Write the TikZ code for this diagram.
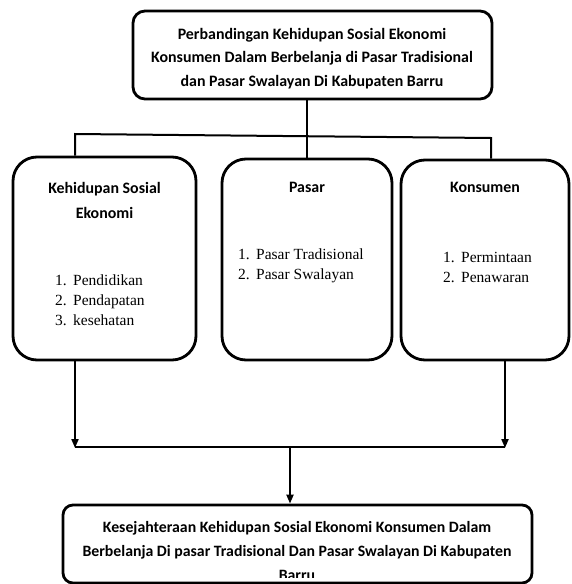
\documentclass[tikz,border=0pt]{standalone}
\usepackage{fontspec}
\setmainfont{Liberation Serif}
\newfontfamily\calib{Carlito}
\usetikzlibrary{arrows.meta}
\tikzset{
  box/.style={draw, line width=2.8pt, rounded corners=#1, inner sep=0pt, rectangle},
  conn/.style={line width=2pt},
  arr/.style={line width=2pt, -{Triangle[length=9pt,width=7pt]}},
  head/.style={font=\calib\bfseries\fontsize{15.9}{23.5}\selectfont, align=center, inner sep=0pt},
  lst/.style={font=\fontsize{15.5}{20}\selectfont, align=left, inner sep=0pt, anchor=west},
}
\newcommand{\itm}[2]{\makebox[18pt][l]{#1}#2}
\begin{document}
\begin{tikzpicture}[x=1pt,y=-1pt]
\useasboundingbox (0,0) rectangle (571,584);
% boxes
\node[box=12pt, minimum width=359pt, minimum height=88pt] (top) at (312.5,55) {};
\node[box=24pt, minimum width=183pt, minimum height=203pt] (kes) at (104.5,258.5) {};
\node[box=24pt, minimum width=170pt, minimum height=201pt] (pas) at (307,259.5) {};
\node[box=24pt, minimum width=168pt, minimum height=200pt] (kon) at (485,260) {};
\node[box=10pt, minimum width=469pt, minimum height=78pt] (bot) at (297.5,544) {};
% texts
\node[head] (toptxt) at (312,58.5) {Perbandingan Kehidupan Sosial Ekonomi\\Konsumen Dalam Berbelanja di Pasar Tradisional\\dan Pasar Swalayan Di Kabupaten Barru};
\node[head, font=\calib\bfseries\fontsize{15.9}{25}\selectfont] (keshead) at (104.5,200) {Kehidupan Sosial\\Ekonomi};
\node[head] (pashead) at (307,187) {Pasar};
\node[head] (konhead) at (485,187) {Konsumen};
\node[lst] (keslist) at (55,300) {\itm{1.}{Pendidikan}\\\itm{2.}{Pendapatan}\\\itm{3.}{kesehatan}};
\node[lst] (paslist) at (238,265.5) {\itm{1.}{Pasar Tradisional}\\\itm{2.}{Pasar Swalayan}};
\node[lst] (konlist) at (443,267.5) {\itm{1.}{Permintaan}\\\itm{2.}{Penawaran}};
\begin{scope}
\clip (66,508) rectangle (529,577);
\node[head, font=\calib\bfseries\fontsize{15.8}{24}\selectfont] (bottxt) at (297,551) {Kesejahteraan Kehidupan Sosial Ekonomi Konsumen Dalam\\Berbelanja Di pasar Tradisional Dan Pasar Swalayan Di Kabupaten\\Barru};
\end{scope}
% connectors top
\coordinate (hl) at (75,134);
\coordinate (hr) at (491,138);
\draw[conn] (top.south -| pas.north) -- (pas.north);
\draw[conn] (kes.north -| hl) -- (hl) -- (hr) -- (kon.north -| hr);
% connectors bottom
\coordinate (bl) at (75,447);
\coordinate (br) at (505,447);
\coordinate (bm) at (290,447);
\draw[arr] (kes.south -| bl) -- ([yshift=-1pt]bl);
\draw[arr] (kon.south -| br) -- ([yshift=-1pt]br);
\draw[line width=2.5pt] (bl) -- (br);
\draw[arr] (bm) -- (bot.north -| bm);
\end{tikzpicture}
\end{document}
